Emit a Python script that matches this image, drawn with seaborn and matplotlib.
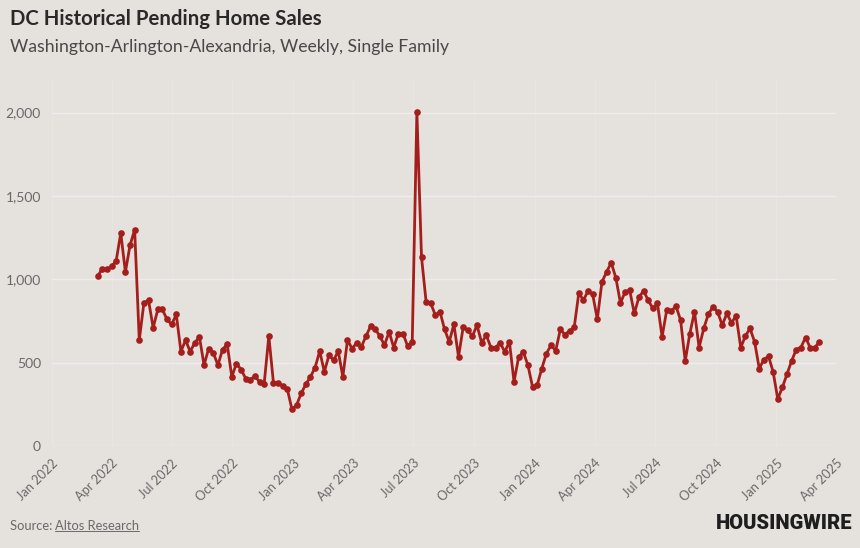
import numpy as np
import pandas as pd
import matplotlib

matplotlib.use("Agg")
import matplotlib.pyplot as plt
import matplotlib.dates as mdates
import seaborn as sns

# weekly pending sales, single family, Washington-Arlington-Alexandria
first_week = "2022-03-11"
sales_2022 = [1018, 1064, 1060, 1078, 1110, 1278, 1044, 1204, 1298, 635,
              858, 875, 709, 819, 819, 759, 729, 789, 567, 635,
              567, 619, 655, 485, 585, 559, 485, 579, 611, 415,
              495, 459, 405, 399, 419, 385, 375, 659, 379, 379,
              359, 341]
sales_2023 = [220, 246, 316, 371, 415, 471, 569, 445, 545, 515,
              569, 415, 635, 585, 619, 595, 659, 719, 701, 659,
              605, 685, 591, 675, 675, 599, 625, 2004, 1134, 864,
              855, 785, 805, 699, 625, 731, 535, 711, 695, 659,
              725, 619, 665, 591, 591, 619, 565, 625, 385, 535,
              565, 485]
sales_2024 = [355, 365, 465, 555, 605, 571, 699, 669, 691, 711,
              918, 875, 930, 909, 761, 984, 1044, 1100, 1010, 858,
              924, 934, 795, 894, 930, 875, 825, 855, 655, 815,
              810, 839, 755, 509, 675, 805, 591, 705, 791, 835,
              805, 725, 795, 739, 781, 591, 659, 705, 625, 465,
              519, 539]
sales_2025 = [445, 282, 352, 431, 511, 579, 591, 651, 591, 591, 625]

y_ticks = [0, 500, 1000, 1500, 2000]
x_ticks = ["2022-01-01", "2022-04-01", "2022-07-01", "2022-10-01",
           "2023-01-01", "2023-04-01", "2023-07-01", "2023-10-01",
           "2024-01-01", "2024-04-01", "2024-07-01", "2024-10-01",
           "2025-01-01", "2025-04-01"]

values = sales_2022 + sales_2023 + sales_2024 + sales_2025
df = pd.DataFrame({
    "week": pd.date_range(first_week, periods=len(values), freq="7D"),
    "pending": values,
})

BG = "#E5E2DE"
RED = "#A41F1C"
GRID = "#EFEDEA"
GRAY = "#6B6865"

sns.set_theme(style="white")
plt.rcParams["font.family"] = ["Lato", "DejaVu Sans"]

fig = plt.figure(figsize=(8.6, 5.48), dpi=100, facecolor=BG)
ax = fig.add_axes([0.0605, 0.1861, 0.9115, 0.6692], facecolor=BG)

sns.lineplot(data=df, x="week", y="pending", ax=ax, color=RED,
             linewidth=2.0, marker="o", markersize=4.8,
             markeredgecolor=RED, markeredgewidth=0)

ax.set_xlim(pd.Timestamp("2022-01-01"), pd.Timestamp("2025-04-01"))
ax.set_ylim(0, 2200)
ax.set_yticks(y_ticks)
ax.yaxis.set_major_formatter(matplotlib.ticker.FuncFormatter(lambda v, p: f"{int(v):,}"))
ax.set_xticks([pd.Timestamp(t) for t in x_ticks])
ax.xaxis.set_major_formatter(mdates.DateFormatter("%b %Y"))

ax.grid(True, axis="y", color=GRID, linewidth=1.0)
ax.grid(True, axis="x", color="#EAE8E5", linewidth=0.5)
ax.set_axisbelow(True)
for s in ax.spines.values():
    s.set_visible(False)

ax.tick_params(axis="y", length=0, pad=8, labelsize=10, labelcolor=GRAY)
ax.tick_params(axis="x", length=6, width=0.5, color="#EAE8E5", pad=2,
               labelsize=9.2, labelcolor=GRAY)
for lab in ax.get_xticklabels():
    lab.set_rotation(45)
    lab.set_ha("right")
    lab.set_rotation_mode("anchor")
ax.set_xlabel("")
ax.set_ylabel("")

# titles
fig.text(0.0116, 0.965, "DC Historical Pending Home Sales", fontsize=14.7,
         fontweight="bold", color="#2B2926", va="center")
fig.text(0.0116, 0.914, "Washington-Arlington-Alexandria, Weekly, Single Family",
         fontsize=12.7, color="#4A4744", va="center")

# footer
fig.text(0.0116, 0.040, "Source: ", fontsize=9.3, color=GRAY, va="center")
src = fig.text(0.0635, 0.040, "Altos Research", fontsize=9.3, color=GRAY,
               va="center")
fig.canvas.draw()
bb = src.get_window_extent().transformed(fig.transFigure.inverted())
fig.add_artist(plt.Line2D([bb.x0, bb.x1], [bb.y0 + 0.002, bb.y0 + 0.002],
                          transform=fig.transFigure, color=GRAY, linewidth=0.7))
fig.text(0.991, 0.045, "HOUSINGWIRE", fontsize=14.5, fontweight="heavy",
         family=["Liberation Sans Narrow", "Roboto", "DejaVu Sans"],
         color="#1E1E1E", ha="right", va="center")

plt.savefig("out.png", dpi=100, facecolor=BG)
plt.close()
